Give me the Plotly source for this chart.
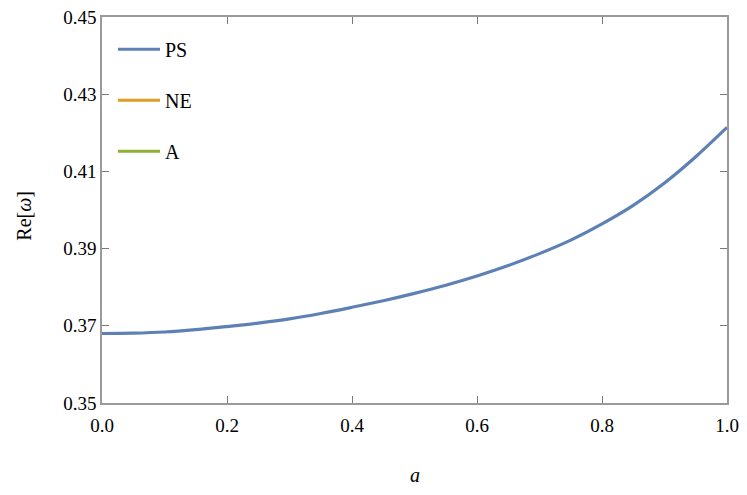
import plotly.graph_objects as go

# Values.
a_vals = [0.0, 0.05, 0.1, 0.15, 0.2, 0.25, 0.3, 0.35, 0.4, 0.45, 0.5,
          0.55, 0.6, 0.65, 0.7, 0.75, 0.8, 0.85, 0.9, 0.95, 1.0]
re_ps = [0.3680, 0.3681, 0.3684, 0.3690, 0.3698, 0.3707, 0.3718, 0.3732, 0.3748, 0.3765, 0.3784,
         0.3805, 0.3829, 0.3856, 0.3887, 0.3922, 0.3964, 0.4012, 0.4070, 0.4138, 0.4214]
# NE and A lie outside the plotted window, so only their legend entries show.
re_ne = [None] * len(a_vals)
re_a = [None] * len(a_vals)

x_ticks = [0.0, 0.2, 0.4, 0.6, 0.8, 1.0]
y_ticks = [0.35, 0.37, 0.39, 0.41, 0.43, 0.45]

serif = "Liberation Serif, Times New Roman, DejaVu Serif, serif"

fig = go.Figure()
fig.add_trace(go.Scatter(x=a_vals, y=re_ps, mode='lines', name='PS', legendgroup='ps',
                         line=dict(color='#5E81B5', width=3.2, shape='spline')))
fig.add_trace(go.Scatter(x=a_vals, y=re_ne, mode='lines', name='NE', legendgroup='ne',
                         line=dict(color='#E19C24', width=3.2)))
fig.add_trace(go.Scatter(x=a_vals, y=re_a, mode='lines', name='A', legendgroup='a',
                         line=dict(color='#8FB032', width=3.2)))

axis_style = dict(showgrid=False, zeroline=False, showline=True, linecolor='#9a9a9a',
                  linewidth=1.5, mirror='ticks', ticks='inside', ticklen=7,
                  tickcolor='#7a7a7a', tickwidth=1, automargin=False,
                  ticklabeloverflow='allow',
                  tickfont=dict(family=serif, size=19, color='black'))

fig.update_xaxes(range=[0, 1], tickvals=x_ticks, tickformat='.1f',
                 ticklabelstandoff=4, **axis_style)
fig.update_yaxes(range=[0.35, 0.45], tickvals=y_ticks, tickformat='.2f', **axis_style)

# the page body adds an 8px margin, so the figure is 8px smaller on the left/top
fig.update_layout(
    width=739, height=487,
    margin=dict(l=94, r=20, t=9, b=92, autoexpand=False),
    paper_bgcolor='white', plot_bgcolor='white',
    showlegend=True,
    legend=dict(x=0.0176, y=0.967, xanchor='left', yanchor='top',
                font=dict(family=serif, size=20, color='black'),
                traceorder='grouped', tracegroupgap=22, itemwidth=42,
                bgcolor='rgba(0,0,0,0)'),
    annotations=[
        dict(text='<i>a</i>', xref='paper', yref='paper', x=0.5, y=-0.187,
             xanchor='center', yanchor='middle', showarrow=False,
             font=dict(family=serif, size=20, color='black')),
        dict(text='Re[<i>ω</i>]', xref='paper', yref='paper', x=-0.125, y=0.485,
             xanchor='center', yanchor='middle', textangle=-90, showarrow=False,
             font=dict(family=serif, size=20, color='black')),
    ],
)

fig.write_html("out.html")
